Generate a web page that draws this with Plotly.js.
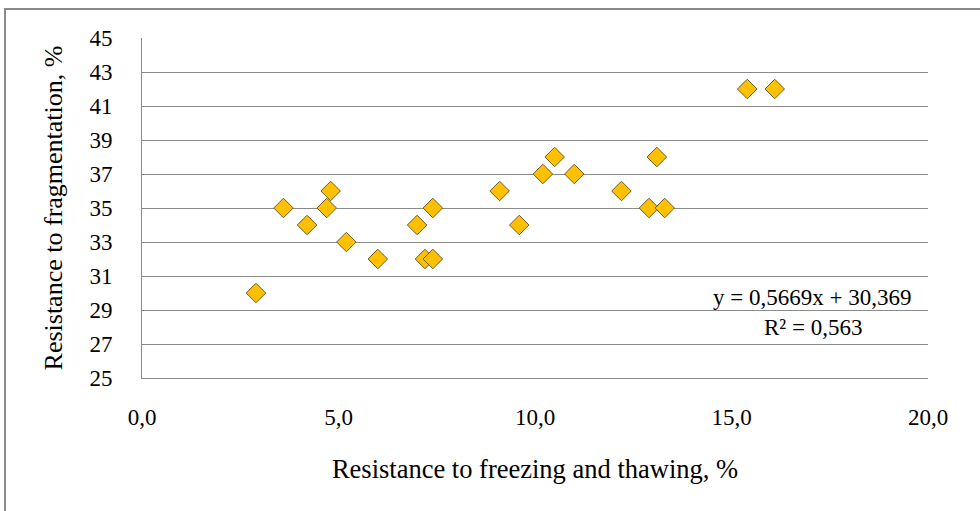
<!DOCTYPE html>
<html>
<head>
<meta charset="utf-8">
<script src="https://cdn.plot.ly/plotly-3.0.1.min.js"></script>
<style>
  html, body { margin: 0; padding: 0; background: #fff; overflow: hidden; }
  #wrap { position: relative; width: 980px; height: 511px; }
  #chart { width: 980px; height: 511px; }
  #frame { position: absolute; left: 4px; top: 8px; width: 1000px; height: 600px;
           border: 2px solid #8a8a8a; pointer-events: none; }
</style>
</head>
<body>
<div id="wrap">
  <div id="chart"></div>
  <div id="frame"></div>
</div>
<script>
// Data
const freezeThaw = [2.9, 3.6, 4.2, 4.7, 4.8, 5.2, 6.0, 7.0, 7.2, 7.4, 7.4,
                    9.1, 9.6, 10.2, 10.5, 11.0, 12.2, 12.9, 13.1, 13.3, 15.4, 16.1];
const fragmentation = [30, 35, 34, 35, 36, 33, 32, 34, 32, 32, 35,
                       36, 34, 37, 38, 37, 36, 35, 38, 35, 42, 42];
const xTickVals = [0, 5, 10, 15, 20];
const yTickVals = [25, 27, 29, 31, 33, 35, 37, 39, 41, 43, 45];
const xTitle = 'Resistance to freezing and thawing, %';
const yTitle = 'Resistance to fragmentation, %';
const eqLine = 'y = 0,5669x + 30,369';
const r2Line = 'R\u00B2 = 0,563';

const serif = 'Liberation Serif, Times New Roman, serif';
const gridGray = '#8a8a8a';

const trace = {
  type: 'scatter',
  mode: 'markers',
  x: freezeThaw,
  y: fragmentation,
  marker: {
    symbol: 'diamond',
    size: 15,
    color: '#FFC000',
    line: { color: '#6b5b2e', width: 1 }
  },
  hoverinfo: 'x+y',
  showlegend: false
};

const layout = {
  width: 980,
  height: 511,
  margin: { l: 142, r: 52, t: 38, b: 133 },
  paper_bgcolor: '#ffffff',
  plot_bgcolor: '#ffffff',
  separators: ', ',
  font: { family: serif, color: '#000000', size: 23 },
  xaxis: {
    range: [0, 20],
    tickvals: xTickVals,
    tickformat: '.1f',
    showgrid: false,
    zeroline: false,
    showline: true,
    linecolor: gridGray,
    linewidth: 1,
    ticks: 'outside',
    ticklen: 18,
    tickcolor: 'rgba(0,0,0,0)',
    tickfont: { family: serif, size: 23, color: '#000' },
    title: { text: xTitle, font: { family: serif, size: 26.5, color: '#000' }, standoff: 30 },
    automargin: false,
    fixedrange: true
  },
  yaxis: {
    range: [25, 45],
    tickvals: yTickVals,
    showgrid: true,
    gridcolor: gridGray,
    gridwidth: 1,
    zeroline: false,
    showline: true,
    linecolor: gridGray,
    linewidth: 1,
    ticks: 'outside',
    ticklen: 24,
    tickcolor: 'rgba(0,0,0,0)',
    tickfont: { family: serif, size: 23, color: '#000' },
    title: { text: yTitle, font: { family: serif, size: 26, color: '#000' }, standoff: 19 },
    automargin: false,
    fixedrange: true
  },
  annotations: [
    { x: 17.04, y: 29.72, xref: 'x', yref: 'y', text: eqLine, showarrow: false,
      font: { family: serif, size: 23, color: '#000' }, xanchor: 'center', yanchor: 'middle' },
    { x: 17.08, y: 27.96, xref: 'x', yref: 'y', text: r2Line, showarrow: false,
      font: { family: serif, size: 23, color: '#000' }, xanchor: 'center', yanchor: 'middle' }
  ]
};

Plotly.newPlot('chart', [trace], layout, { displayModeBar: false, staticPlot: false });
</script>
</body>
</html>
